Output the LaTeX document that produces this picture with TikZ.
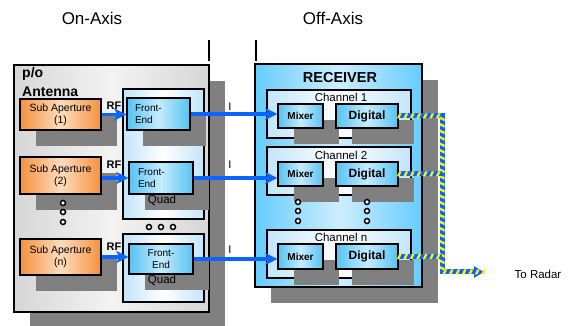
\documentclass[tikz,border=0pt]{standalone}
\usepackage{fontspec}
\setmainfont{Liberation Sans}
\usetikzlibrary{shadows,arrows.meta,decorations.markings}
\definecolor{shadowgray}{HTML}{808080}
\definecolor{orng}{HTML}{F5913E}
\definecolor{orngl}{HTML}{FDDCBD}
\definecolor{skyb}{HTML}{55C3F2}
\definecolor{skybl}{HTML}{C6EBFD}
\definecolor{recv}{HTML}{66CCFF}
\definecolor{recvl}{HTML}{CDEEFF}
\definecolor{chan}{HTML}{C2E5FB}
\definecolor{arrowblue}{HTML}{0A64FF}
\definecolor{antgray}{HTML}{D6D6D6}
\definecolor{antlight}{HTML}{F3F3F3}
\begin{document}
\begin{tikzpicture}[x=1pt,y=-1pt,
  shad/.style={drop shadow={shadow xshift=16pt,shadow yshift=-16pt,fill=shadowgray,opacity=1}},
  box/.style={rectangle,draw=black,line width=1.4pt,inner sep=0pt},
  antbox/.style={box,shad,left color=antgray,right color=antgray,middle color=antlight},
  subap/.style={box,shad,left color=orng,right color=orng,middle color=orngl,minimum width=81pt,align=center,font=\fontsize{10.5}{12}\selectfont},
  quadbox/.style={box,left color=chan,right color=chan,middle color=white,minimum width=81pt},
  febox/.style={box,shad,left color=skyb,right color=skyb,middle color=skybl,minimum width=63pt,text width=47pt,font=\fontsize{10}{11.5}\selectfont},
  recvbox/.style={box,shad,left color=recv,right color=recv,middle color=recvl},
  chanbox/.style={box,left color=chan,right color=chan,middle color=white,minimum width=144pt,minimum height=48pt},
  mixbox/.style={box,shad,left color=skyb,right color=skyb,middle color=skybl,minimum width=45pt,minimum height=24pt,font=\bfseries\fontsize{10}{12}\selectfont},
  digbox/.style={box,shad,left color=skyb,right color=skyb,middle color=skybl,minimum width=62pt,minimum height=24pt,font=\bfseries\fontsize{12}{14}\selectfont},
  lbl/.style={inner sep=0pt},
  sig/.style={draw=arrowblue,line width=3.5pt,-{Stealth[length=12pt,width=12pt,inset=3pt]}},
  dotc/.style={circle,draw=black,line width=1.5pt,fill=white,minimum size=5pt,inner sep=0pt},
  bus/.style={draw=arrowblue,line width=5pt,line join=miter,postaction={decorate},
    decoration={markings,mark=between positions 0 and 1 step 6.5pt with {\fill[yellow] (-2pt,-2.5pt) -- (0.6pt,-2.5pt) -- (3pt,2.5pt) -- (0.4pt,2.5pt) -- cycle;}}}
]
\useasboundingbox (0,0) rectangle (571,326);

% titles
\node[lbl,font=\fontsize{17}{20}\selectfont] (ontitle) at (92,18) {On-Axis};
\node[lbl,font=\fontsize{17}{20}\selectfont] (offtitle) at (333,18) {Off-Axis};
\draw[line width=1.5pt] (209,40) -- (209,61);
\draw[line width=1.5pt] (256,40) -- (256,61);

% antenna
\node[antbox,minimum width=195pt,minimum height=247pt] (ant) at (111.5,188.5) {};
\node[lbl,anchor=west,font=\bfseries\fontsize{14}{16}\selectfont] (po) at (22,74) {p/o};
\node[lbl,anchor=west,font=\bfseries\fontsize{14}{16}\selectfont] (antl) at (22,92) {Antenna};

\node[subap,minimum height=31pt] (sub1) at (60.5,114.5) {Sub Aperture\\(1)};
\node[subap,minimum height=37pt] (sub2) at (60.5,175.5) {Sub Aperture\\(2)};
\node[subap,minimum height=36pt] (subn) at (60.5,257) {Sub Aperture\\(n)};

\node[quadbox,minimum height=130pt] (quad1) at (163.5,154) {};
\node[quadbox,minimum height=68pt] (quad2) at (163.5,268) {};

\node[febox,minimum height=32pt,align=left] (fe1) at (158.5,114) {Front-\\End};
\node[febox,minimum height=32pt,minimum width=64pt,text width=46pt,align=left] (fe2) at (161,178) {Front-\\End};
\node[febox,minimum height=30pt,minimum width=64pt,align=center] (fen) at (161,259) {Front-\\End};
\node[lbl,font=\fontsize{11.5}{13}\selectfont] (q1) at (162,200) {Quad};
\node[lbl,font=\fontsize{11.5}{13}\selectfont] (q2) at (162,280) {Quad};

% receiver
\node[recvbox,minimum width=167pt,minimum height=223pt] (rcv) at (338.5,175.5) {};
\node[lbl,font=\bfseries\fontsize{14.5}{16}\selectfont] (rcvl) at (340,78) {RECEIVER};

\node[chanbox] (ch1) at (339,114) {};
\node[chanbox] (ch2) at (339,171) {};
\node[chanbox] (chn) at (339,254) {};
\node[lbl,font=\fontsize{11.5}{13}\selectfont] (ch1l) at (341,97) {Channel 1};
\node[lbl,font=\fontsize{11.5}{13}\selectfont] (ch2l) at (341,155) {Channel 2};
\node[lbl,font=\fontsize{11.5}{13}\selectfont] (chnl) at (341,237) {Channel n};

\node[mixbox] (mix1) at (300.5,116) {Mixer};
\node[digbox] (dig1) at (367,116) {Digital};
\node[mixbox] (mix2) at (300.5,174) {Mixer};
\node[digbox] (dig2) at (367,174) {Digital};
\node[mixbox,minimum height=25pt] (mixn) at (300.5,256.5) {Mixer};
\node[digbox,minimum height=25pt] (dign) at (367,256.5) {Digital};

% labels
\node[lbl,font=\bfseries\fontsize{11}{12}\selectfont] (rf1) at (114,106) {RF};
\node[lbl,font=\bfseries\fontsize{11}{12}\selectfont] (rf2) at (114,165) {RF};
\node[lbl,font=\bfseries\fontsize{11}{12}\selectfont] (rfn) at (114,247) {RF};
\node[lbl,font=\fontsize{11}{12}\selectfont] (i1) at (230,107) {I};
\node[lbl,font=\fontsize{11}{12}\selectfont] (i2) at (230,165) {I};
\node[lbl,font=\fontsize{11}{12}\selectfont] (in) at (230,250) {I};

% arrows
\draw[sig] (sub1.east) -- (sub1.east -| fe1.west);
\draw[sig] (fe2.west -| sub2.east) -- (fe2.west);
\draw[sig] (subn.east) -- (subn.east -| fen.west);
\draw[sig] (fe1.east) -- (fe1.east -| mix1.west);
\draw[sig] (fe2.east) -- (fe2.east -| mix2.west);
\draw[sig] (fen.east) -- (fen.east -| mixn.west);

% bus
\coordinate (busbot) at (442,272);
\coordinate (radar) at (484,272);
\draw[bus,-{Triangle[length=10pt,width=11pt]}] (dig1.east) -| (busbot) -- (radar);
\draw[bus] (dig2.east) -- (dig2.east -| busbot);
\draw[bus] (dign.east) -- (dign.east -| busbot);
\node[lbl,font=\fontsize{11.5}{13}\selectfont] (radarl) at (538,274) {To Radar};

% dots
\foreach \y in {203,212,222} {
  \node[dotc] at (63,\y) {};
  \node[dotc] at (298,\y-1) {};
  \node[dotc] at (367,\y-1) {};
}
\foreach \x in {149,161,173} { \node[dotc] at (\x,227) {}; }
\end{tikzpicture}
\end{document}
